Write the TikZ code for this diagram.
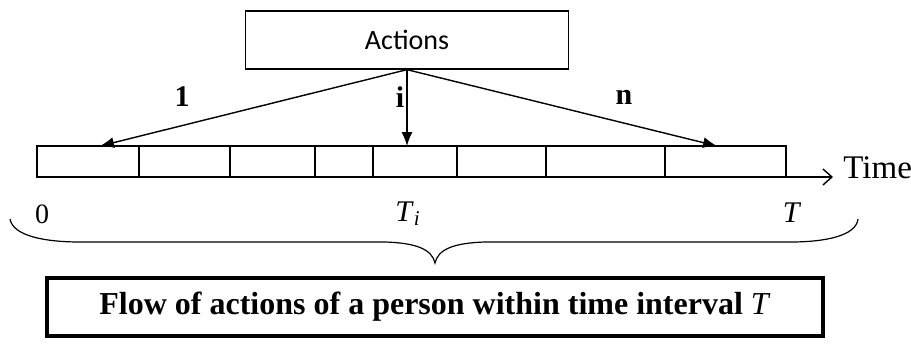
\documentclass[tikz,border=0pt]{standalone}
\usepackage{fontspec}
\setmainfont{Liberation Serif}
\newfontfamily\actfont{Carlito}
\usetikzlibrary{arrows.meta}

\tikzset{
  actbox/.style={draw, line width=0.65pt, inner sep=0pt, minimum width=161.5pt, minimum height=29pt, font=\actfont\fontsize{14}{16}\selectfont},
  seg/.style={draw, line width=0.65pt, inner sep=0pt, outer sep=0pt, minimum height=15.5pt},
  act/.style={line width=0.7pt, -{Latex[length=7pt,width=5.5pt]}},
  axis/.style={line width=0.7pt, -{Straight Barb[length=4.5pt,width=8pt]}},
  arlbl/.style={font=\bfseries\fontsize{15}{18}\selectfont},
  tlbl/.style={font=\fontsize{15}{18}\selectfont},
  capbox/.style={draw, line width=2pt, inner sep=0pt, minimum width=388pt, minimum height=29pt, font=\bfseries\fontsize{16}{19}\selectfont}
}

\begin{document}
\begin{tikzpicture}[x=0.5pt,y=-0.5pt]
    \useasboundingbox (0,0) rectangle (911,345);
    \node[actbox] (act) at (407,40) {Actions};
    % time line
    \node[seg, minimum width=51pt] (s1) at (88,161.5) {};
    \node[seg, minimum width=45.5pt] (s2) at (184.5,161.5) {};
    \node[seg, minimum width=42.5pt] (s3) at (272.5,161.5) {};
    \node[seg, minimum width=29pt] (s4) at (344,161.5) {};
    \node[seg, minimum width=42pt] (s5) at (415,161.5) {};
    \node[seg, minimum width=44.5pt] (s6) at (501.5,161.5) {};
    \node[seg, minimum width=59.5pt] (s7) at (605.5,161.5) {};
    \node[seg, minimum width=60.5pt] (s8) at (725.5,161.5) {};
    \node[anchor=base west, inner sep=0pt, font=\fontsize{16.5}{19}\selectfont] (time) at (843,178) {Time};
    \coordinate (ax1) at (833,177);
    \draw[axis] (s1.south west) -- (ax1);
    % actions
    \coordinate (t1) at (100,146);
    \coordinate (ti) at (407,146);
    \coordinate (tn) at (717,146);
    \draw[act] (act.south) -- (t1);
    \draw[act] (act.south) -- (ti);
    \draw[act] (act.south) -- (tn);
    \node[arlbl] (l1) at (182,97) {1};
    \node[arlbl] (li) at (400,97) {i};
    \node[arlbl] (ln) at (624,97) {n};
    \node[tlbl, font=\fontsize{14}{17}\selectfont] (z) at (42,214) {0};
    \node[tlbl] (tI) at (408,214) {\textit{T}\textsubscript{\textit{i}}};
    \node[tlbl] (tT) at (792,213) {\textit{T}};
    % brace
    \draw[line width=0.6pt] (10,219) .. controls (13,236) and (45,242) .. (80,242)
      -- (385,242) .. controls (418,243) and (432,250) .. (435,263)
      .. controls (438,250) and (452,243) .. (485,242)
      -- (790,242) .. controls (825,242) and (856,236) .. (858,219);
    \node[capbox] (cap) at (435,307) {Flow of actions of a person within time interval \textnormal{\textit{T}}};
\end{tikzpicture}
\end{document}
